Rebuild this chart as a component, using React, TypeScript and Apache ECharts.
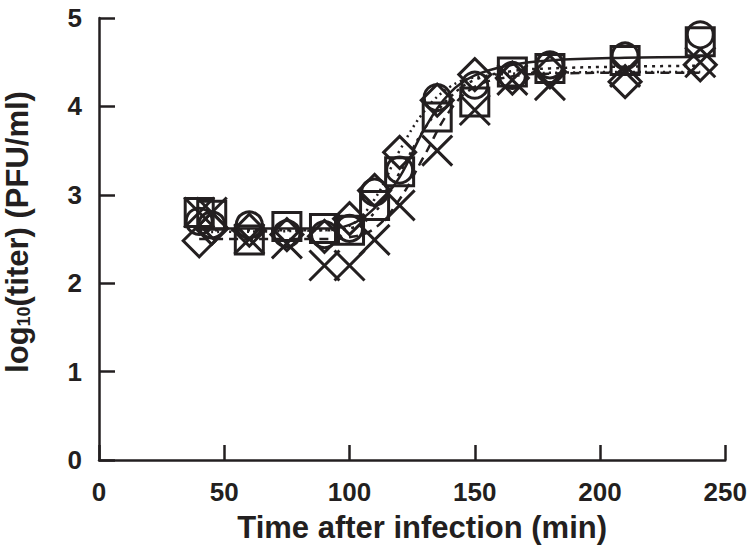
import React, { useEffect, useRef } from "react";
import * as echarts from "echarts";

const times = [40, 45, 60, 75, 90, 100, 110, 120, 135, 150, 165, 180, 210, 240];
const circleVals = [2.7, 2.66, 2.66, 2.56, 2.55, 2.62, 3.03, 3.28, 4.1, 4.24, 4.35, 4.47, 4.57, 4.81];
const squareVals = [2.8, 2.77, 2.49, 2.64, 2.62, 2.6, 2.88, 3.26, 3.88, 4.05, 4.39, 4.43, 4.52, 4.73];
const diamondVals = [2.48, 2.62, 2.6, 2.55, 2.53, 2.73, 3.05, 3.48, 4.07, 4.36, 4.32, 4.39, 4.28, 4.47];
const crossVals = [2.8, 2.8, 2.5, 2.45, 2.2, 2.2, 2.49, 2.88, 3.5, 3.96, 4.3, 4.24, 4.39, 4.5];

const fitTimes = [40, 90, 100, 110, 120, 130, 140, 150, 165, 180, 210, 240];
const fitSolid = [2.62, 2.62, 2.66, 2.85, 3.2, 3.75, 4.15, 4.35, 4.47, 4.52, 4.55, 4.56];
const fitDashed = [2.5, 2.5, 2.52, 2.62, 2.95, 3.45, 3.95, 4.22, 4.34, 4.37, 4.38, 4.38];
const fitDotA = [2.6, 2.6, 2.62, 2.8, 3.25, 3.75, 4.1, 4.3, 4.4, 4.43, 4.45, 4.46];
const fitDotB = [2.58, 2.6, 2.65, 2.95, 3.5, 3.95, 4.22, 4.33, 4.37, 4.38, 4.39, 4.39];

const xTicks = [0, 250, 50];
const yTicks = [0, 5, 1];

const INK = "#231f20";
const FONT = "'Liberation Sans', Arial, sans-serif";

const pair = (xs: number[], ys: number[]) => xs.map((x, i) => [x, ys[i]]);

export default function App() {
  const ref = useRef<HTMLDivElement>(null);
  useEffect(() => {
    if (!ref.current) return;
    const chart = echarts.init(ref.current, null, { renderer: "svg" });
    const markerStyle = { color: "transparent", borderColor: INK, borderWidth: 3, opacity: 1 };
    const scatter = (name: string, vals: number[], symbol: string, size: number) => ({
      type: "scatter",
      name,
      data: pair(times, vals),
      symbol,
      symbolSize: size,
      itemStyle: markerStyle,
      z: 5,
    });
    const fit = (vals: number[], type: any) => ({
      type: "line",
      data: pair(fitTimes, vals),
      showSymbol: false,
      smooth: 0.4,
      lineStyle: { color: INK, width: 2.5, type },
      z: 3,
    });
    chart.setOption({
      animation: false,
      backgroundColor: "#ffffff",
      grid: { left: 99, right: 20, top: 18, bottom: 93 },
      xAxis: {
        type: "value",
        min: xTicks[0],
        max: xTicks[1],
        interval: xTicks[2],
        name: "Time after infection (min)",
        nameLocation: "middle",
        nameGap: 52,
        nameTextStyle: { fontFamily: FONT, fontWeight: "bold", fontSize: 31, color: INK, padding: [0, 0, 0, 20] },
        axisLine: { lineStyle: { color: INK, width: 2.5 } },
        axisTick: { inside: true, length: 15, lineStyle: { color: INK, width: 2.5 } },
        axisLabel: { fontFamily: FONT, fontWeight: "bold", fontSize: 26, color: INK, margin: 19 },
        splitLine: { show: false },
      },
      yAxis: {
        type: "value",
        min: yTicks[0],
        max: yTicks[1],
        interval: yTicks[2],
        axisLine: { show: true, lineStyle: { color: INK, width: 2.5 } },
        axisTick: { show: true, inside: true, length: 16, lineStyle: { color: INK, width: 2.5 } },
        axisLabel: { fontFamily: FONT, fontWeight: "bold", fontSize: 26, color: INK, margin: 17 },
        splitLine: { show: false },
      },
      graphic: [
        {
          type: "text",
          x: 17,
          y: 232,
          rotation: Math.PI / 2,
          style: {
            text: "log{sub|10}(titer) (PFU/ml)",
            fontFamily: FONT,
            fontWeight: "bold",
            fontSize: 31,
            fill: INK,
            align: "center",
            verticalAlign: "middle",
            rich: {
              sub: { fontFamily: FONT, fontWeight: "bold", fontSize: 18, fill: INK, padding: [14, 0, 0, 0] },
            },
          },
        },
      ],
      series: [
        fit(fitSolid, "solid"),
        fit(fitDashed, [9, 6]),
        fit(fitDotA, [3, 5]),
        fit(fitDotB, [2, 4]),
        scatter("circle", circleVals, "circle", 26),
        scatter("square", squareVals, "rect", 28),
        scatter("diamond", diamondVals, "diamond", 32),
        scatter("cross", crossVals, "path://M0,0L10,10M10,0L0,10", 30),
      ],
    });
    return () => chart.dispose();
  }, []);
  return <div ref={ref} style={{ width: 750, height: 553, position: "absolute", left: 0, top: 0 }} />;
}
